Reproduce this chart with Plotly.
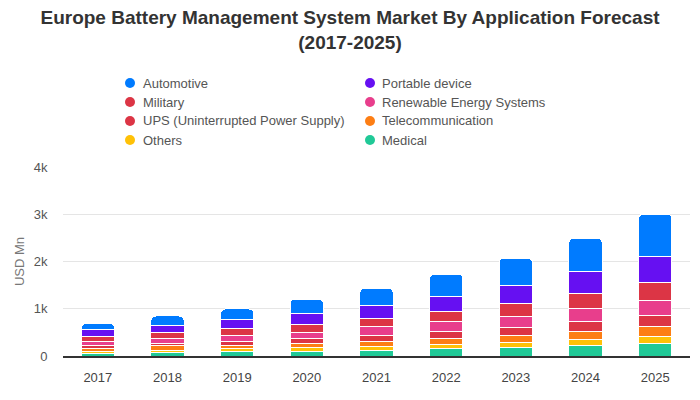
import plotly.graph_objects as go

years = ["2017", "2018", "2019", "2020", "2021", "2022", "2023", "2024", "2025"]
medical = [57, 78, 91, 99, 127, 169, 184, 218, 269]
others = [42, 43, 63, 91, 78, 70, 106, 135, 148]
telecom = [64, 91, 72, 85, 106, 136, 148, 170, 212]
ups = [63, 48, 85, 106, 119, 154, 169, 211, 232]
renewable = [85, 115, 127, 121, 184, 197, 233, 276, 324]
military = [106, 126, 140, 175, 184, 212, 275, 317, 381]
portable = [154, 149, 199, 233, 281, 325, 381, 451, 544]
automotive = [121, 197, 218, 296, 360, 472, 578, 719, 895]

stack = [
    ("Medical", medical, "#20c997"),
    ("Others", others, "#ffc107"),
    ("Telecommunication", telecom, "#fd7e14"),
    ("UPS (Uninterrupted Power Supply)", ups, "#dc3545"),
    ("Renewable Energy Systems", renewable, "#e83e8c"),
    ("Military", military, "#dc3545"),
    ("Portable device", portable, "#6610f2"),
    ("Automotive", automotive, "#007bff"),
]
legend_order = ["Automotive", "Portable device", "Military", "Renewable Energy Systems",
                "UPS (Uninterrupted Power Supply)", "Telecommunication", "Others", "Medical"]
colors = {n: c for n, _, c in stack}

# figure geometry (page body has an 8px margin)
W, H = 692, 392
L, R, T, B = 55, 10, 159, 44
pw, ph = W - L - R, H - T - B

fig = go.Figure()
for name, vals, col in stack:
    fig.add_trace(go.Bar(x=years, y=vals, name=name,
                         marker=dict(color=col, line=dict(color="white", width=1)),
                         showlegend=False))

# custom two-column legend with circular markers
shapes, annotations = [], []
col_circle_x = [122, 362]
col_text_x = [133, 372]
row_y = [75, 94, 113, 132]
for i, name in enumerate(legend_order):
    c, r = i % 2, i // 2
    cx = (col_circle_x[c] - L) / pw
    ty = (H - B - row_y[r]) / ph
    shapes.append(dict(type="circle", xref="paper", yref="paper", xsizemode="pixel", ysizemode="pixel",
                       xanchor=cx, yanchor=ty, x0=-5, x1=5, y0=-5, y1=5,
                       fillcolor=colors[name], line=dict(width=0)))
    annotations.append(dict(text=name, xref="paper", yref="paper", x=(col_text_x[c] - L) / pw, y=ty,
                            xanchor="left", yanchor="middle", showarrow=False,
                            font=dict(size=13, color="#555")))

fig.update_layout(
    width=W, height=H,
    barmode="stack", bargap=0.52, barcornerradius=5,
    plot_bgcolor="white", paper_bgcolor="white",
    margin=dict(l=L, r=R, t=T, b=B, autoexpand=False),
    showlegend=False,
    font=dict(family="Liberation Sans, Arial, sans-serif", size=13, color="#555"),
    title=dict(text="<b>Europe Battery Management System Market By Application Forecast<br>(2017-2025)</b>",
               x=342 / W, xanchor="center", y=1 - 16 / H, yanchor="middle", yref="container",
               font=dict(size=19, color="#333")),
    shapes=shapes, annotations=annotations,
    xaxis=dict(showgrid=False, tickfont=dict(color="#444", size=13), showline=True,
               linecolor="#333", linewidth=2, ticks="", automargin=False, ticklabelstandoff=8),
    yaxis=dict(range=[0, 4000], tickvals=[0, 1000, 2000, 3000, 4000], automargin=False,
               ticktext=["0", "1k", "2k", "3k", "4k"], gridcolor="#e5e5e5",
               zeroline=False, title=dict(text="USD Mn", font=dict(color="#777", size=13), standoff=6),
               tickfont=dict(color="#555", size=13), ticks="outside", ticklen=12, tickcolor="white"),
)
fig.write_html("out.html")
